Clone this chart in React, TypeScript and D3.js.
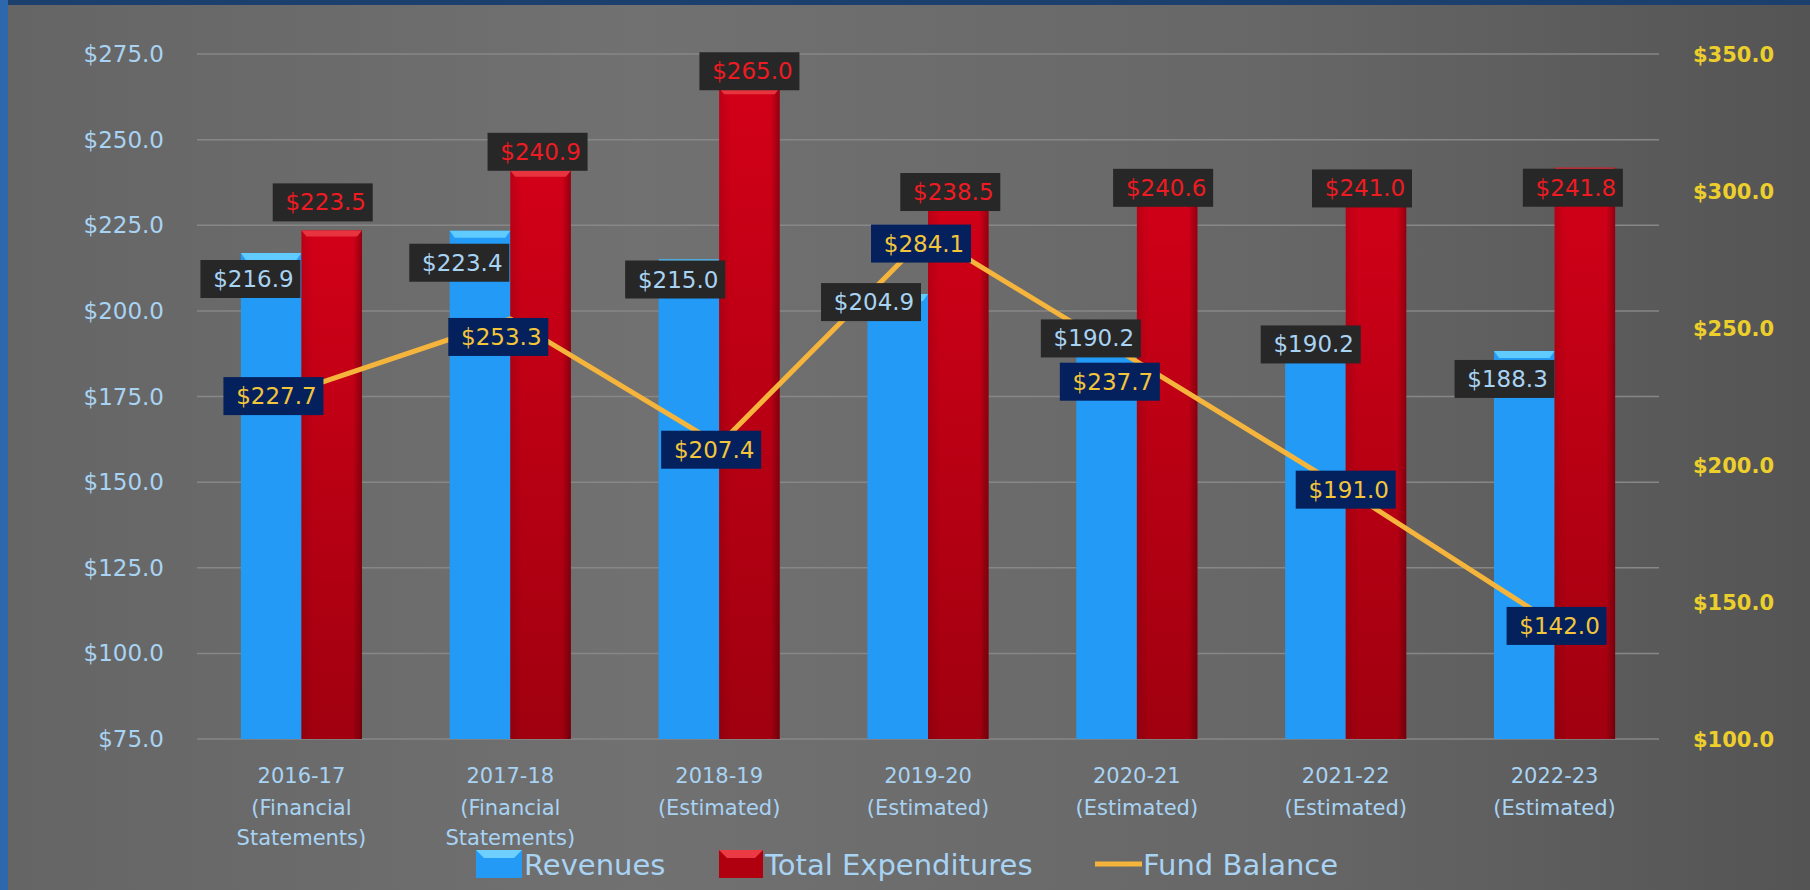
import React, { useEffect, useRef } from 'react';
import * as d3 from 'd3';

const categories = ['2016-17', '2017-18', '2018-19', '2019-20', '2020-21', '2021-22', '2022-23'];
const categoryNotes = [
  ['(Financial', 'Statements)'],
  ['(Financial', 'Statements)'],
  ['(Estimated)'],
  ['(Estimated)'],
  ['(Estimated)'],
  ['(Estimated)'],
  ['(Estimated)'],
];
const revenues = [216.9, 223.4, 215.0, 204.9, 190.2, 190.2, 188.3];
const expenditures = [223.5, 240.9, 265.0, 238.5, 240.6, 241.0, 241.8];
const fundBalance = [227.7, 253.3, 207.4, 284.1, 237.7, 191.0, 142.0];
const leftTicks = [75, 100, 125, 150, 175, 200, 225, 250, 275];
const rightTicks = [100, 150, 200, 250, 300, 350];

// manual label nudges (px) as in the original deck
const revLabelShift = [[-51, 26], [-51, 32], [-44, 20], [-57, 8], [-46, -6], [-35, 0], [-50, 28]];
const expLabelShift = [[-9, -28], [-3, -19], [0, -17], [-8, 13], [-4, 16], [-14, 18], [-12, 20]];
const fundLabelShift = [[-28, 7], [-12, 18], [-8, 5], [-7, 9], [-27, 20], [0, 0], [2, 2]];

const W = 1810;
const H = 890;
const FONT = "'DejaVu Sans', Tahoma, sans-serif";

const App: React.FC = () => {
  const svgRef = useRef<SVGSVGElement>(null);

  useEffect(() => {
    if (!svgRef.current) return;
    const svg = d3.select(svgRef.current);
    svg.selectAll('*').remove();

    const plot = { left: 197, right: 1659, top: 54, bottom: 739 };

    const x0 = d3.scaleBand<string>()
      .domain(categories)
      .range([plot.left, plot.right])
      .paddingInner(0.42)
      .paddingOuter(0.21);
    const x1 = d3.scaleBand<string>()
      .domain(['rev', 'exp'])
      .range([0, x0.bandwidth()]);
    const yL = d3.scaleLinear().domain([75, 275]).range([plot.bottom, plot.top]);
    const yR = d3.scaleLinear().domain([100, 350]).range([plot.bottom, plot.top]);
    const cx = (i: number) => (x0(categories[i]) as number) + x0.bandwidth() / 2;

    const defs = svg.append('defs');
    const bg = defs.append('linearGradient').attr('id', 'bg').attr('x1', 0).attr('x2', 1).attr('y1', 0).attr('y2', 0);
    bg.append('stop').attr('offset', '0%').attr('stop-color', '#656565');
    bg.append('stop').attr('offset', '35%').attr('stop-color', '#717171');
    bg.append('stop').attr('offset', '70%').attr('stop-color', '#676767');
    bg.append('stop').attr('offset', '100%').attr('stop-color', '#545454');

    const red = defs.append('linearGradient').attr('id', 'redbar').attr('x1', 0).attr('x2', 0).attr('y1', 0).attr('y2', 1);
    red.append('stop').attr('offset', '0%').attr('stop-color', '#d20018');
    red.append('stop').attr('offset', '100%').attr('stop-color', '#a0000f');
    const redSide = defs.append('linearGradient').attr('id', 'redside').attr('x1', 0).attr('x2', 1).attr('y1', 0).attr('y2', 0);
    redSide.append('stop').attr('offset', '0%').attr('stop-color', '#000').attr('stop-opacity', 0.1);
    redSide.append('stop').attr('offset', '20%').attr('stop-color', '#000').attr('stop-opacity', 0);
    redSide.append('stop').attr('offset', '85%').attr('stop-color', '#000').attr('stop-opacity', 0);
    redSide.append('stop').attr('offset', '100%').attr('stop-color', '#000').attr('stop-opacity', 0.3);

    // page frame
    svg.append('rect').attr('width', W).attr('height', H).attr('fill', '#2d68ad');
    svg.append('rect').attr('x', 8).attr('y', 5).attr('width', W - 8).attr('height', H - 5).attr('fill', 'url(#bg)');
    svg.append('rect').attr('x', 8).attr('y', 0).attr('width', W - 8).attr('height', 5).attr('fill', '#1d3f6d');

    // gridlines
    svg.append('g').selectAll('line').data(leftTicks).enter().append('line')
      .attr('x1', plot.left).attr('x2', plot.right)
      .attr('y1', d => yL(d)).attr('y2', d => yL(d))
      .attr('stroke', '#878787').attr('stroke-width', 1.5);

    // left axis labels
    svg.append('g').selectAll('text').data(leftTicks).enter().append('text')
      .attr('x', 164).attr('y', d => yL(d) + 8)
      .attr('text-anchor', 'end')
      .attr('font-family', FONT).attr('font-size', 23)
      .attr('fill', '#a9d3f3')
      .text(d => `$${d.toFixed(1)}`);

    // right axis labels
    svg.append('g').selectAll('text').data(rightTicks).enter().append('text')
      .attr('x', 1693).attr('y', d => yR(d) + 8)
      .attr('font-family', FONT).attr('font-size', 21).attr('font-weight', 'bold')
      .attr('fill', '#ecce2c')
      .text(d => `$${d.toFixed(1)}`);

    // category labels
    const cat = svg.append('g').selectAll('text').data(categories).enter().append('text')
      .attr('text-anchor', 'middle')
      .attr('font-family', FONT).attr('font-size', 21)
      .attr('fill', '#a9d3f3');
    cat.append('tspan').attr('x', (_, i) => cx(i)).attr('y', 783).text(d => d);
    cat.each(function (_, i) {
      categoryNotes[i].forEach((t, k) => {
        d3.select(this).append('tspan').attr('x', cx(i)).attr('y', 815 + k * 30).text(t);
      });
    });

    // bars
    const bw = x1.bandwidth();
    const bars = svg.append('g');
    revenues.forEach((v, i) => {
      const x = (x0(categories[i]) as number) + (x1('rev') as number);
      const y = yL(v);
      bars.append('rect').attr('x', x).attr('y', y).attr('width', bw).attr('height', plot.bottom - y).attr('fill', '#239bf6');
      bars.append('path')
        .attr('d', `M${x},${y}L${x + bw},${y}L${x + bw - 5},${y + 7}L${x + 5},${y + 7}Z`)
        .attr('fill', '#5fcbff');
    });
    expenditures.forEach((v, i) => {
      const x = (x0(categories[i]) as number) + (x1('exp') as number);
      const y = yL(v);
      bars.append('rect').attr('x', x).attr('y', y).attr('width', bw).attr('height', plot.bottom - y).attr('fill', 'url(#redbar)');
      bars.append('rect').attr('x', x).attr('y', y).attr('width', bw).attr('height', plot.bottom - y).attr('fill', 'url(#redside)');
      bars.append('path')
        .attr('d', `M${x},${y}L${x + bw},${y}L${x + bw - 5},${y + 6}L${x + 5},${y + 6}Z`)
        .attr('fill', '#e8343e');
    });

    // fund balance line
    const line = d3.line<number>().x((_, i) => cx(i)).y(d => yR(d));
    svg.append('path').datum(fundBalance)
      .attr('d', line)
      .attr('fill', 'none')
      .attr('stroke', '#f5b43c')
      .attr('stroke-width', 5)
      .attr('stroke-linejoin', 'round');

    const drawLabel = (px: number, py: number, shift: number[], txt: string, box: string, color: string) => {
      const g = svg.append('g').attr('transform', `translate(${px + shift[0]},${py + shift[1]})`);
      g.append('rect').attr('x', -50).attr('y', -19).attr('width', 100).attr('height', 38).attr('fill', box);
      g.append('text').attr('x', 3).attr('y', 8).attr('text-anchor', 'middle')
        .attr('font-family', FONT).attr('font-size', 23).attr('fill', color).text(txt);
    };

    revenues.forEach((v, i) => {
      drawLabel(cx(i), yL(v), revLabelShift[i], `$${v.toFixed(1)}`, '#272727', '#a9d3f3');
    });
    expenditures.forEach((v, i) => {
      const px = (x0(categories[i]) as number) + (x1('exp') as number) + bw / 2;
      drawLabel(px, yL(v), expLabelShift[i], `$${v.toFixed(1)}`, '#272727', '#ee1b22');
    });
    fundBalance.forEach((v, i) => {
      drawLabel(cx(i), yR(v), fundLabelShift[i], `$${v.toFixed(1)}`, '#04215e', '#f2c53a');
    });

    // legend
    const lg = svg.append('g').attr('font-family', FONT).attr('font-size', 29).attr('fill', '#a9d3f3');
    const ly = 864;
    lg.append('rect').attr('x', 476).attr('y', ly - 14).attr('width', 46).attr('height', 28).attr('fill', '#239bf6');
    lg.append('path').attr('d', `M476,${ly - 14}L522,${ly - 14}L514,${ly - 6}L484,${ly - 6}Z`).attr('fill', '#6fd0ff');
    lg.append('text').attr('x', 524).attr('y', ly + 11).text('Revenues');
    lg.append('rect').attr('x', 719).attr('y', ly - 14).attr('width', 44).attr('height', 28).attr('fill', '#b0000f');
    lg.append('path').attr('d', `M719,${ly - 14}L763,${ly - 14}L755,${ly - 6}L727,${ly - 6}Z`).attr('fill', '#ec3a44');
    lg.append('text').attr('x', 765).attr('y', ly + 11).text('Total Expenditures');
    lg.append('line').attr('x1', 1095).attr('x2', 1142).attr('y1', ly).attr('y2', ly)
      .attr('stroke', '#f5b43c').attr('stroke-width', 5);
    lg.append('text').attr('x', 1143).attr('y', ly + 11).text('Fund Balance');
  }, []);

  return (
    <svg
      ref={svgRef}
      width={W}
      height={H}
      style={{ position: 'fixed', left: 0, top: 0, display: 'block' }}
    />
  );
};

export default App;
